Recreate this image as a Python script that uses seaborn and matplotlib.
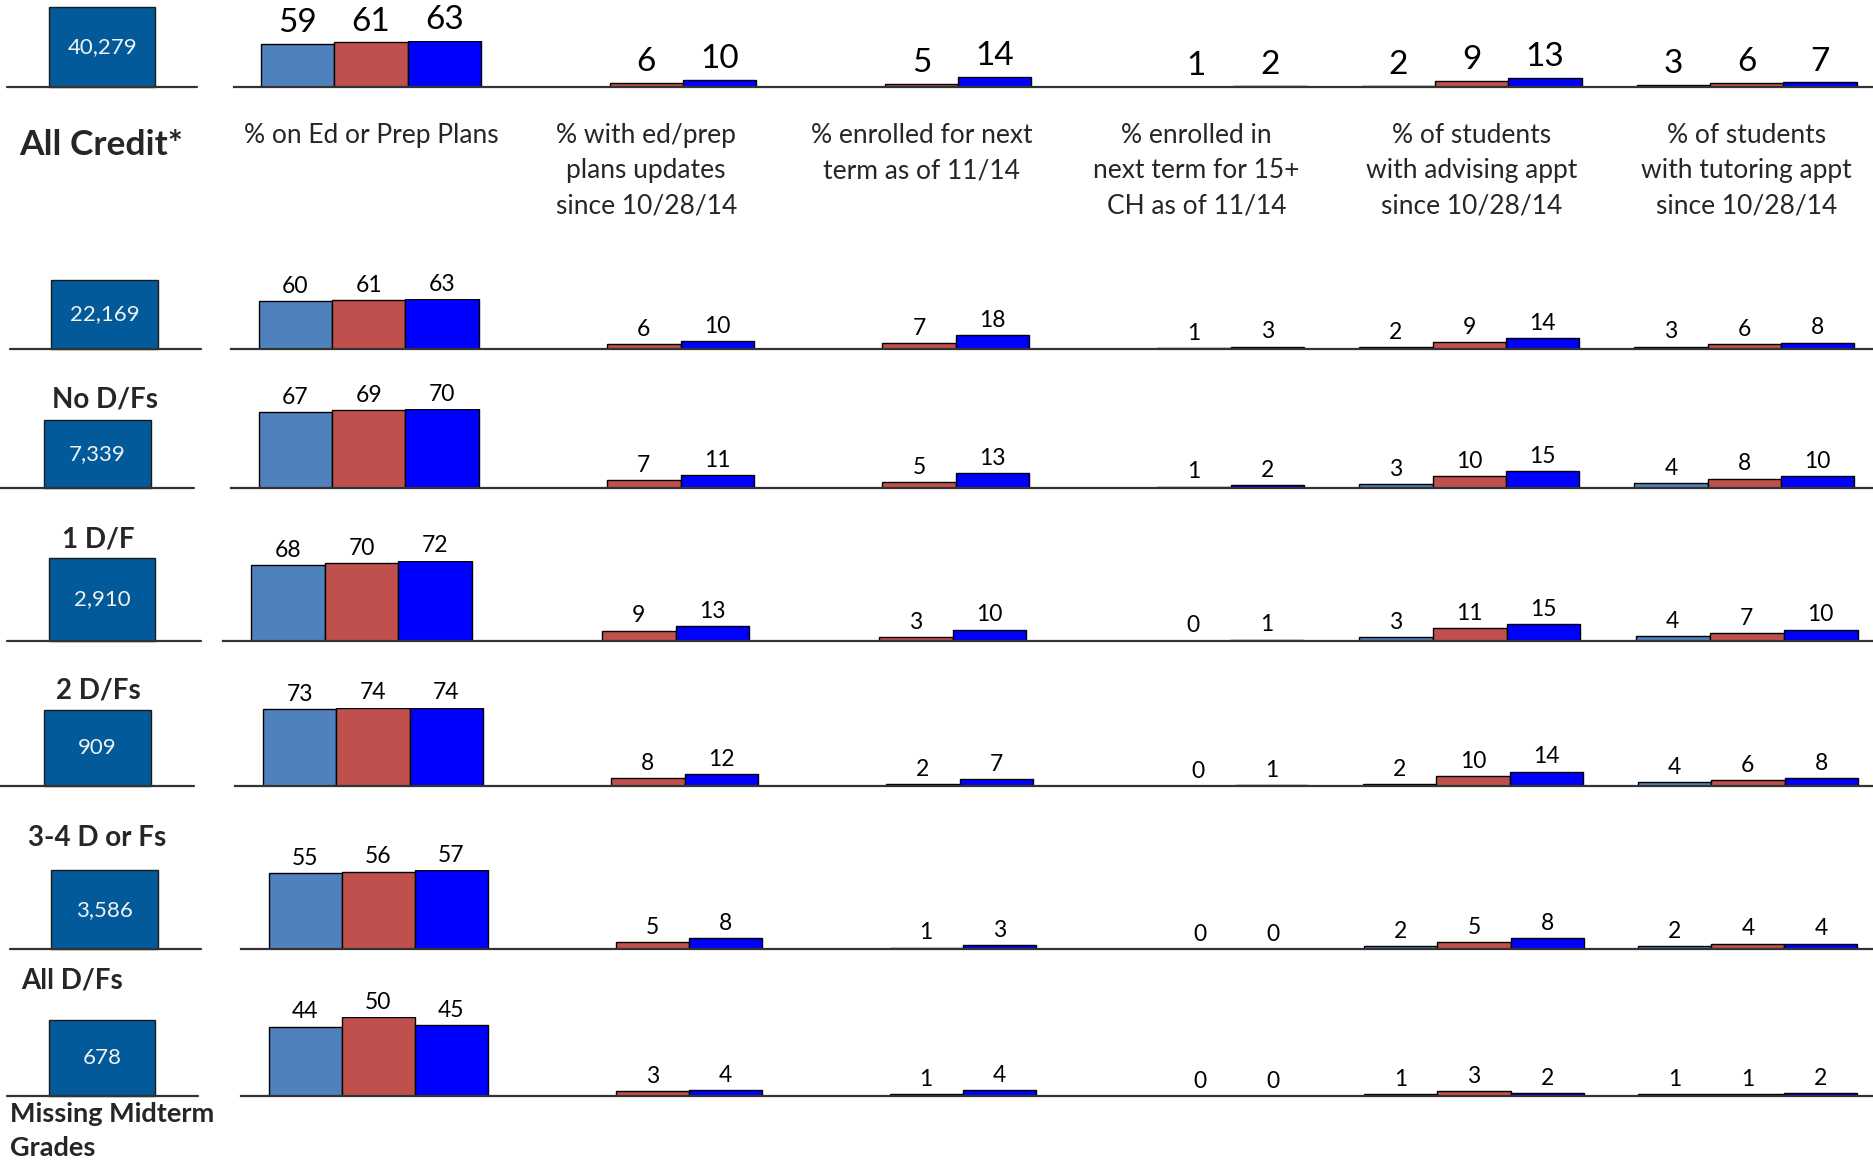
import numpy as np
import pandas as pd
import matplotlib
matplotlib.use("Agg")
import matplotlib.pyplot as plt
import seaborn as sns
from matplotlib.patches import Rectangle
from matplotlib.lines import Line2D

nan = np.nan

metrics = [
    "% on Ed or Prep Plans",
    "% with ed/prep\nplans updates\nsince 10/28/14",
    "% enrolled for next\nterm as of 11/14",
    "% enrolled in\nnext term for 15+\nCH as of 11/14",
    "% of students\nwith advising appt\nsince 10/28/14",
    "% of students\nwith tutoring appt\nsince 10/28/14",
]
series = ["Series 1", "Series 2", "Series 3"]
colors = ["#4F81BD", "#C0504D", "#0000FF"]

row_counts = ["40,279", "22,169", "7,339", "2,910", "909", "3,586", "678"]

# one list per series, one value per metric
row1_vals = [[59, nan, nan, nan, 2, 3], [61, 6, 5, 1, 9, 6], [63, 10, 14, 2, 13, 7]]
row2_vals = [[60, nan, nan, nan, 2, 3], [61, 6, 7, 1, 9, 6], [63, 10, 18, 3, 14, 8]]
row3_vals = [[67, nan, nan, nan, 3, 4], [69, 7, 5, 1, 10, 8], [70, 11, 13, 2, 15, 10]]
row4_vals = [[68, nan, nan, nan, 3, 4], [70, 9, 3, 0, 11, 7], [72, 13, 10, 1, 15, 10]]
row5_vals = [[73, nan, nan, nan, 2, 4], [74, 8, 2, 0, 10, 6], [74, 12, 7, 1, 14, 8]]
row6_vals = [[55, nan, nan, nan, 2, 2], [56, 5, 1, 0, 5, 4], [57, 8, 3, 0, 8, 4]]
row7_vals = [[44, nan, nan, nan, 1, 1], [50, 3, 1, 0, 3, 1], [45, 4, 4, 0, 2, 2]]
all_rows = [row1_vals, row2_vals, row3_vals, row4_vals, row5_vals, row6_vals, row7_vals]

sns.set_theme(style="white")
plt.rcParams["font.family"] = ["Lato", "DejaVu Sans"]

# layout grid of the reference (px)
W, H = 1568, 973


def fx(x):
    return x / W


def fy(y):
    return 1 - y / H


# baseline y, first group centre, last group centre, axes height, box x0, x1, top, line x0, x1
layout = [
    (73, 310.5, 1461.5, 39, 41, 130, 6, 6, 165),
    (292, 308.5, 1459.5, 42, 43, 132, 234, 8, 168),
    (408, 308.5, 1459.5, 66, 37, 126, 351, 0, 162),
    (536, 302.5, 1461.5, 67, 41, 130, 467, 6, 168),
    (658, 312, 1462.5, 66, 37, 126, 594, 0, 162),
    (794, 316.5, 1462.5, 66, 43, 132, 728, 8, 168),
    (917, 316.5, 1462.5, 66, 41, 130, 853, 6, 166),
]

fig = plt.figure(figsize=(18.74, 11.63), dpi=100)

for i, (vals, count, lay) in enumerate(zip(all_rows, row_counts, layout)):
    base, c0, c5, hpx, bx0, bx1, btop, lx0, lx1 = lay
    step = (c5 - c0) / 5
    ax = fig.add_axes([fx(c0 - step / 2), fy(base), 6 * step / W, hpx / H])
    ax.patch.set_alpha(0)

    recs = []
    for s, svals in zip(series, vals):
        for m, v in zip(metrics, svals):
            if not np.isnan(v):
                recs.append({"metric": m, "series": s, "value": v})
    df = pd.DataFrame(recs)

    sns.barplot(data=df, x="metric", y="value", hue="series", order=metrics,
                hue_order=series, palette=colors, saturation=1, edgecolor="black",
                linewidth=1.0, errorbar=None, width=0.8, legend=False, ax=ax)
    ax.set_xlim(-0.5, 5.5)
    ax.set_ylim(0, df["value"].max())

    big = i == 0
    for cont in ax.containers:
        ax.bar_label(cont, fmt="{:.0f}", padding=4 if big else 3,
                     fontsize=24 if big else 16.5, color="black")

    for sp in ["top", "left", "right"]:
        ax.spines[sp].set_visible(False)
    ax.spines["bottom"].set_color("#333333")
    ax.spines["bottom"].set_linewidth(1.6)
    ax.set_yticks([])
    ax.set_xlabel("")
    ax.set_ylabel("")
    if big:
        ax.tick_params(axis="x", length=0, pad=26, labelsize=19)
        for lab in ax.get_xticklabels():
            lab.set_linespacing(1.5)
    else:
        ax.set_xticks([])

    # count box with its own baseline
    fig.add_artist(Line2D([fx(lx0), fx(lx1)], [fy(base), fy(base)],
                          color="#333333", linewidth=1.6))
    fig.add_artist(Rectangle((fx(bx0), fy(base)), (bx1 - bx0) / W, (base - btop) / H,
                             facecolor="#035A9A", edgecolor="#1a1a1a", linewidth=1.0))
    fig.text(fx((bx0 + bx1) / 2), fy((base + btop) / 2), count, ha="center",
             va="center", fontsize=16, color="#F2F2F2")

# group labels
fig.text(fx(85), fy(121), "All Credit*", ha="center", va="center", fontsize=25.5, fontweight="bold")
fig.text(fx(88), fy(334), "No D/Fs", ha="center", va="center", fontsize=20, fontweight="bold")
fig.text(fx(82), fy(451), "1 D/F", ha="center", va="center", fontsize=20, fontweight="bold")
fig.text(fx(82), fy(578), "2 D/Fs", ha="center", va="center", fontsize=20, fontweight="bold")
fig.text(fx(81), fy(701), "3-4 D or Fs", ha="center", va="center", fontsize=20, fontweight="bold")
fig.text(fx(18), fy(820), "All D/Fs", ha="left", va="center", fontsize=20, fontweight="bold")
fig.text(fx(8), fy(922), "Missing Midterm\nGrades", ha="left", va="top", fontsize=19.5,
         fontweight="bold", linespacing=1.5)

fig.savefig("out.png", dpi=100)
plt.close(fig)
